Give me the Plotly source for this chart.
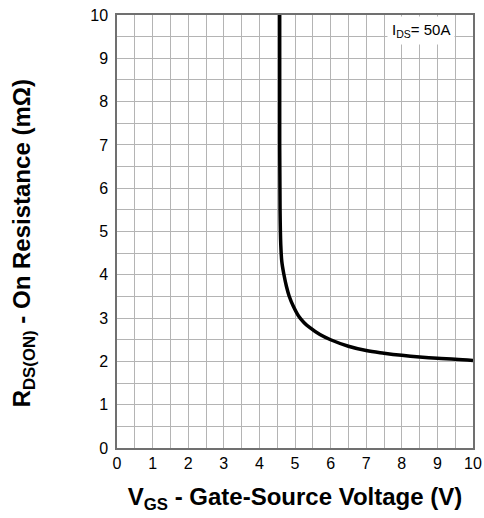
import plotly.graph_objects as go

vgs = [4.57, 4.57, 4.58, 4.60, 4.63, 4.69, 4.76, 4.84, 4.95, 5.10, 5.25, 5.40, 5.70, 6.0, 6.5, 7.0, 7.5, 8.0, 8.5, 9.0, 9.5, 10.0]
rds = [10.0, 7.0, 5.5, 4.7, 4.3, 4.0, 3.73, 3.5, 3.28, 3.05, 2.9, 2.79, 2.62, 2.5, 2.35, 2.25, 2.19, 2.14, 2.10, 2.07, 2.05, 2.02]
x_ticks = list(range(0, 11))
y_ticks = list(range(0, 11))

FONT = "Liberation Sans, Arial, sans-serif"

fig = go.Figure()
fig.add_trace(go.Scatter(x=vgs, y=rds, mode="lines",
                         line=dict(color="black", width=3.5, shape="spline", smoothing=1.0),
                         showlegend=False, hoverinfo="skip"))

fig.add_annotation(x=8.55, y=9.65, xref="x", yref="y",
                   text="I<sub>DS</sub>= 50A", showarrow=False,
                   font=dict(family=FONT, size=15, color="black"),
                   bgcolor="white", borderpad=4)

# y-axis title as rotated annotation for exact placement
fig.add_annotation(x=-0.262, y=0.472, xref="paper", yref="paper",
                   text="R<sub>DS(ON)</sub> - On Resistance (mΩ)", showarrow=False,
                   textangle=-90, xanchor="center", yanchor="middle",
                   font=dict(family=FONT, size=24, color="black", weight="bold"))

axis_common = dict(
    showgrid=True, gridcolor="#b4b4b4", gridwidth=1,
    minor=dict(dtick=0.5, showgrid=True, gridcolor="#b4b4b4", gridwidth=1),
    showline=True, linecolor="#707070", linewidth=1.5, mirror=True,
    zeroline=False, ticks="", tickfont=dict(family=FONT, size=16, color="black"),
    fixedrange=True, automargin=False,
)

fig.update_xaxes(range=[0, 10], tickvals=x_ticks, ticktext=[str(v) for v in x_ticks],
                 title=dict(text="V<sub>GS</sub> - Gate-Source Voltage (V)",
                            font=dict(family=FONT, size=24, color="black", weight="bold"),
                            standoff=17),
                 **axis_common)
fig.update_yaxes(range=[0, 10], tickvals=y_ticks, ticktext=[str(v) for v in y_ticks],
                 ticklabelstandoff=4,
                 **axis_common)

fig.update_layout(width=484, height=518,
                  margin=dict(l=117, r=11, t=15, b=70),
                  plot_bgcolor="white", paper_bgcolor="white")

fig.write_html("out.html", config={"displayModeBar": False},
               post_script="document.body.style.margin='0';document.body.style.overflow='hidden';")
